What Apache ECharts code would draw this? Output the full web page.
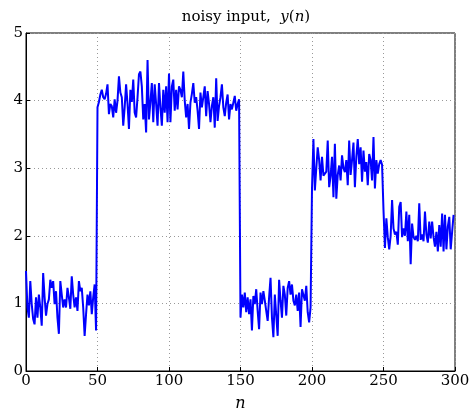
<!DOCTYPE html>
<html><head><meta charset="utf-8">
<script src="https://cdn.jsdelivr.net/npm/echarts@6/dist/echarts.min.js"></script>
<style>html,body{margin:0;padding:0;background:#fff}#c{width:474px;height:417px}</style>
</head><body><div id="c"></div>
<script>
const seg1 = [1.48,0.94,0.79,1.33,0.99,0.77,0.69,1.09,0.79,1.13,0.94,0.67,1.45,1.09,0.82,0.99,1.06,1.35,1.23,1.33,0.99,1.18,0.79,0.55,1.33,1.13,0.94,1.06,0.94,1.23,1.09,0.92,1.40,1.13,0.94,1.09,0.89,1.33,1.18,1.23,0.94,0.52,0.84,1.13,0.97,1.18,0.84,1.09,1.28,0.60];
const seg2 = [3.90,3.98,4.09,4.16,4.05,4.02,4.10,4.24,3.80,3.95,3.92,3.75,4.02,3.82,4.00,4.36,4.12,4.05,3.63,3.90,4.24,3.95,3.58,4.16,3.98,4.31,3.82,3.75,4.05,4.39,4.43,4.21,3.72,3.95,3.53,4.60,3.72,3.98,4.26,3.68,4.24,3.95,3.63,4.26,3.90,3.63,4.16,3.82,4.21,3.68];
const seg3 = [4.40,3.68,4.21,4.31,3.85,4.16,3.87,4.21,4.16,4.05,4.43,4.00,3.75,3.95,3.58,3.97,4.10,4.26,3.97,4.05,3.85,3.58,4.12,3.90,4.05,4.21,3.77,4.14,3.95,3.68,3.92,4.05,3.60,4.33,3.70,3.92,4.05,4.24,3.90,3.77,3.97,4.09,3.72,3.95,3.87,3.97,4.07,3.85,3.95,4.02];
const seg4 = [0.79,1.13,0.94,1.16,0.87,1.09,0.84,1.06,0.60,1.11,0.99,1.21,0.89,0.62,1.16,0.99,1.18,1.04,0.89,0.74,1.09,1.38,0.79,0.50,1.13,0.82,0.52,1.35,1.04,0.79,1.26,1.13,0.82,1.23,1.33,1.13,1.28,1.04,0.97,1.13,0.89,1.16,0.65,1.21,1.23,1.04,1.26,0.87,0.72,0.94];
const seg5 = [2.70,3.43,2.67,3.00,3.31,3.12,2.82,3.17,2.89,2.87,2.95,3.41,2.72,2.88,3.17,2.57,3.36,2.55,2.90,3.04,2.82,3.19,3.00,2.94,3.12,2.75,3.41,2.90,3.12,3.38,2.72,3.17,3.43,3.06,3.31,2.80,3.26,2.95,3.09,2.75,3.21,3.12,2.82,3.46,2.70,3.12,2.92,3.06,3.12,3.05];
const seg6 = [2.38,1.82,2.26,1.98,1.80,2.00,2.53,2.11,2.02,2.06,1.87,2.43,2.50,1.98,2.11,2.00,2.36,1.92,2.31,1.58,2.18,1.98,1.94,2.00,1.92,2.48,1.94,2.02,1.92,2.36,2.02,1.90,2.21,1.96,2.21,1.98,1.84,2.06,1.77,2.16,1.84,2.33,1.77,2.31,1.80,2.14,2.28,1.80,2.06,2.31];
const yValues = [].concat(seg1, seg2, seg3, seg4, seg5, seg6);
const xTicks = [0,50,100,150,200,250,300];
const yTicks = [0,1,2,3,4,5];
const data = yValues.map((v,i)=>[i,v]);
const font = 'DejaVu Serif';
const chart = echarts.init(document.getElementById('c'));
chart.setOption({
  animation:false,
  title:{text:'noisy input,  {i|y}({i|n})',left:241,top:5,textAlign:'center',
    textStyle:{fontFamily:font,fontSize:15,fontWeight:'normal',color:'#000',
      rich:{i:{fontFamily:font,fontStyle:'italic',fontSize:15,color:'#000'}}}},
  grid:{left:26,right:19,top:33,bottom:43,show:true,borderColor:'#000',borderWidth:1,backgroundColor:'transparent'},
  xAxis:{type:'value',min:0,max:300,interval:50,
    name:'n',nameLocation:'middle',nameGap:25,
    nameTextStyle:{fontFamily:font,fontStyle:'italic',fontSize:16,color:'#000'},
    axisLine:{show:true,lineStyle:{color:'#000'}},
    axisTick:{show:true,inside:true,length:4,lineStyle:{color:'#000'}},
    axisLabel:{fontFamily:font,fontSize:15,color:'#000',margin:3,formatter:v=>xTicks.includes(v)?String(v):''},
    splitLine:{show:true,lineStyle:{color:'#999',type:[1,3],width:1}}},
  yAxis:{type:'value',min:0,max:5,interval:1,
    axisLine:{show:true,lineStyle:{color:'#000'}},
    axisTick:{show:true,inside:true,length:4,lineStyle:{color:'#000'}},
    axisLabel:{fontFamily:font,fontSize:15,color:'#000',margin:3,formatter:v=>yTicks.includes(v)?String(v):''},
    splitLine:{show:true,lineStyle:{color:'#999',type:[1,3],width:1}}},
  series:[{type:'line',data:data,showSymbol:false,lineStyle:{color:'#0000ff',width:2},z:5}]
});
</script></body></html>
